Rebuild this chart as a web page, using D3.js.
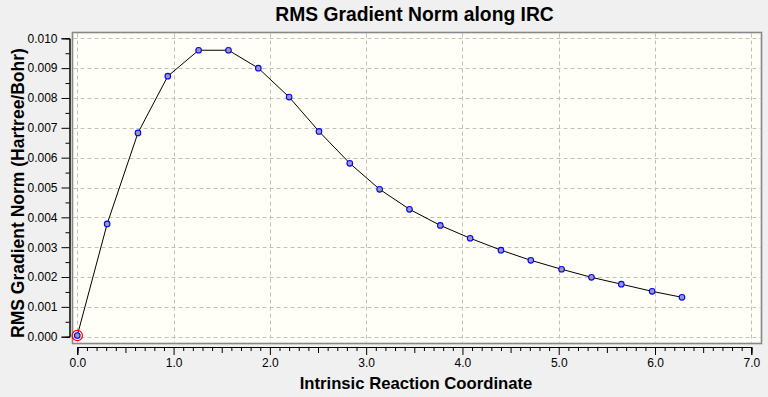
<!DOCTYPE html>
<html><head><meta charset="utf-8">
<script src="https://cdn.jsdelivr.net/npm/d3@7"></script>
<style>
html,body{margin:0;padding:0;background:#f0f0f0;}
svg{display:block;font-family:"Liberation Sans",Arial,sans-serif;}
</style></head>
<body>
<svg id="chart" width="768" height="397"></svg>
<script>
const title = "RMS Gradient Norm along IRC";
const xLabel = "Intrinsic Reaction Coordinate";
const yLabel = "RMS Gradient Norm (Hartree/Bohr)";
const irc = [0, 0.31, 0.63, 0.94, 1.26, 1.57, 1.88, 2.20, 2.51, 2.83, 3.14, 3.45, 3.77, 4.08, 4.40, 4.71, 5.03, 5.34, 5.65, 5.97, 6.28];
const grad = [0.00004, 0.00378, 0.00683, 0.00873, 0.00960, 0.00960, 0.00900, 0.00803, 0.00688, 0.00581, 0.00494, 0.00427, 0.00373, 0.00330, 0.00290, 0.00256, 0.00226, 0.00199, 0.00176, 0.00152, 0.00132];
const xTicks = [0,1,2,3,4,5,6,7];
const yTicks = [0,0.001,0.002,0.003,0.004,0.005,0.006,0.007,0.008,0.009,0.010];

const svg = d3.select("#chart");
const x = d3.scaleLinear().domain([0,7]).range([77.3,751.3]);
const y = d3.scaleLinear().domain([0,0.010]).range([336.7,38.3]);
const frame = {x0:72.5, y0:32.5, x1:761.5, y1:343.5};

// plot area
svg.append("rect").attr("x",frame.x0).attr("y",frame.y0)
  .attr("width",frame.x1-frame.x0).attr("height",frame.y1-frame.y0)
  .attr("fill","#fffff7");

// grid
const grid = svg.append("g").attr("stroke","#c0c0c0").attr("stroke-dasharray","4,3").attr("stroke-width",1);
grid.selectAll("line.v").data(xTicks).join("line")
  .attr("x1",d=>Math.round(x(d))+0.5).attr("x2",d=>Math.round(x(d))+0.5)
  .attr("y1",frame.y0+1).attr("y2",frame.y1-1);
grid.selectAll("line.h").data(yTicks).join("line")
  .attr("y1",d=>Math.round(y(d))+0.5).attr("y2",d=>Math.round(y(d))+0.5)
  .attr("x1",frame.x0+1).attr("x2",frame.x1-1);

// frame
svg.append("rect").attr("x",frame.x0).attr("y",frame.y0)
  .attr("width",frame.x1-frame.x0).attr("height",frame.y1-frame.y0)
  .attr("fill","none").attr("stroke","#888888").attr("stroke-width",1.6);

// x axis
const xMinor = d3.range(0,71).map(i=>i/10).filter(v=>Math.abs(v-Math.round(v))>1e-6 && Math.abs(v*2-Math.round(v*2))>1e-6);
const xHalf = d3.range(0,7).map(i=>i+0.5);
const xAxisG = svg.append("g").attr("transform","translate(0,347)");
xAxisG.append("g").call(d3.axisBottom(x).tickValues(xMinor).tickSize(4).tickFormat(""));
xAxisG.append("g").call(d3.axisBottom(x).tickValues(xHalf).tickSize(6).tickFormat(""));
xAxisG.append("g").call(d3.axisBottom(x).tickValues(xTicks).tickSize(8).tickPadding(3).tickFormat(d3.format(".1f")));
xAxisG.selectAll(".domain").attr("stroke","#000");
xAxisG.selectAll("text").attr("font-size",12).attr("fill","#000").attr("font-family","Liberation Sans, Arial, sans-serif");

// y axis
const yMinor = d3.range(0,10).map(i=>i/1000+0.0005);
const yAxisG = svg.append("g").attr("transform","translate(69.5,0)");
yAxisG.append("g").call(d3.axisLeft(y).tickValues(yMinor).tickSize(4).tickFormat(""));
yAxisG.append("g").call(d3.axisLeft(y).tickValues(yTicks).tickSize(8).tickPadding(4).tickFormat(d3.format(".3f")));
yAxisG.selectAll("text").attr("font-size",12).attr("fill","#000").attr("font-family","Liberation Sans, Arial, sans-serif");

// line
const pts = irc.map((v,i)=>[v,grad[i]]);
svg.append("path").datum(pts)
  .attr("fill","none").attr("stroke","#000").attr("stroke-width",1)
  .attr("d",d3.line().x(d=>x(d[0])).y(d=>y(d[1])));

// markers
svg.selectAll("circle.pt").data(pts).join("circle").attr("class","pt")
  .attr("cx",d=>x(d[0])).attr("cy",d=>y(d[1])).attr("r",2.8)
  .attr("fill","#9a9ab8").attr("stroke","#0000ff").attr("stroke-width",1.1);

// current point highlight
svg.append("circle").datum(pts[0])
  .attr("cx",d=>x(d[0])).attr("cy",d=>y(d[1])).attr("r",5.2)
  .attr("fill","none").attr("stroke","#ff0000").attr("stroke-width",1.2);

// titles
svg.append("text").attr("x",414.5).attr("y",21).attr("text-anchor","middle")
  .attr("font-size",19.3).attr("font-weight","bold").text(title);
svg.append("text").attr("x",416).attr("y",389).attr("text-anchor","middle")
  .attr("font-size",16.7).attr("font-weight","bold").text(xLabel);
svg.append("text").attr("transform","translate(24,193) rotate(-90)").attr("text-anchor","middle")
  .attr("font-size",17.5).attr("font-weight","bold").text(yLabel);
</script>
</body></html>
